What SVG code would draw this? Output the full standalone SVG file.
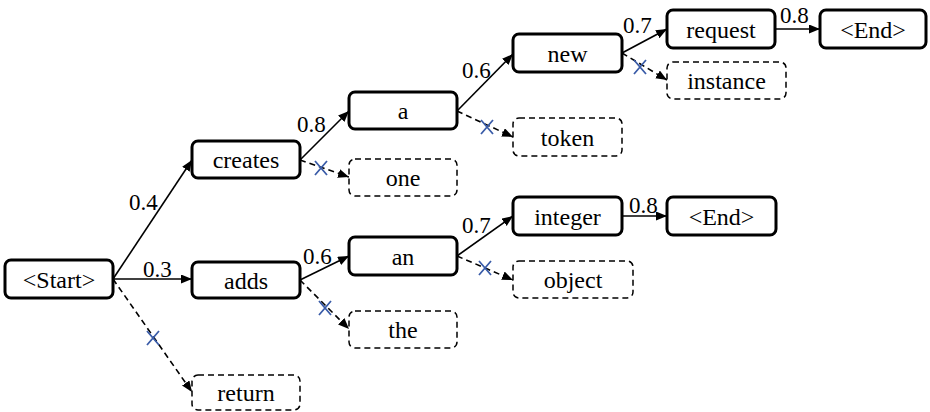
<svg xmlns="http://www.w3.org/2000/svg" width="930" height="412" viewBox="0 0 930 412">
<style>
.n rect{fill:#fff;stroke:#000;stroke-width:3}
.d rect{fill:#fff;stroke:#000;stroke-width:1.5;stroke-dasharray:6,4}
text{font-family:"Liberation Serif","DejaVu Serif",serif;font-size:24px;fill:#000}
.t{text-anchor:middle}
.l{font-size:23px}
.c line{stroke:#000;stroke-width:1.6;fill:none}
.c .dl{stroke-dasharray:6,4}
.x path{stroke:#3a5ca8;stroke-width:1.8;fill:none}
</style>
<defs>
<marker id="ah" markerWidth="12" markerHeight="10" refX="11" refY="4.5" orient="auto" markerUnits="userSpaceOnUse">
<path d="M0,0 L11,4.5 L0,9 Z" fill="#000"/>
</marker>
</defs>
<rect width="930" height="412" fill="#fff"/>
<g id="connectors" class="c">
<line x1="113" y1="279" x2="192" y2="160" marker-end="url(#ah)"/>
<line x1="113" y1="279" x2="192" y2="279" marker-end="url(#ah)"/>
<line class="dl" x1="113" y1="279" x2="192" y2="392" marker-end="url(#ah)"/>
<line x1="300" y1="160" x2="349" y2="111" marker-end="url(#ah)"/>
<line class="dl" x1="300" y1="160" x2="349" y2="177" marker-end="url(#ah)"/>
<line x1="300" y1="280" x2="349" y2="256" marker-end="url(#ah)"/>
<line class="dl" x1="300" y1="280" x2="349" y2="329" marker-end="url(#ah)"/>
<line x1="457" y1="111" x2="513" y2="54" marker-end="url(#ah)"/>
<line class="dl" x1="457" y1="111" x2="513" y2="137" marker-end="url(#ah)"/>
<line x1="457" y1="256" x2="513" y2="216" marker-end="url(#ah)"/>
<line class="dl" x1="457" y1="256" x2="513" y2="280" marker-end="url(#ah)"/>
<line x1="622" y1="53" x2="667" y2="29" marker-end="url(#ah)"/>
<line class="dl" x1="622" y1="53" x2="667" y2="80" marker-end="url(#ah)"/>
<line x1="775" y1="29" x2="820" y2="29" marker-end="url(#ah)"/>
<line x1="622" y1="216" x2="667" y2="216" marker-end="url(#ah)"/>
</g>
<g id="labels">
<text class="l" x="129" y="210">0.4</text>
<text class="l" x="143" y="277">0.3</text>
<text class="l" x="297" y="132">0.8</text>
<text class="l" x="303" y="264">0.6</text>
<text class="l" x="462" y="78">0.6</text>
<text class="l" x="462" y="233">0.7</text>
<text class="l" x="623" y="33">0.7</text>
<text class="l" x="780" y="23">0.8</text>
<text class="l" x="629" y="213">0.8</text>
</g>
<g id="pruned" class="x">
<path d="M147,331 L159,345 M159,331 L147,345"/>
<path d="M315,161 L327,175 M327,161 L315,175"/>
<path d="M481,120 L493,134 M493,120 L481,134"/>
<path d="M634,60 L646,74 M646,60 L634,74"/>
<path d="M319,301 L331,315 M331,301 L319,315"/>
<path d="M479,261 L491,275 M491,261 L479,275"/>
</g>
<g id="start" class="n"><rect x="5" y="260" width="108" height="38" rx="6"/><text class="t" x="59" y="287.5">&lt;Start&gt;</text></g>
<g id="creates" class="n"><rect x="192" y="141" width="108" height="37" rx="6"/><text class="t" x="246" y="168">creates</text></g>
<g id="adds" class="n"><rect x="192" y="262" width="108" height="36" rx="6"/><text class="t" x="246" y="288.5">adds</text></g>
<g id="return" class="d"><rect x="192" y="375" width="108" height="35" rx="6"/><text class="t" x="246" y="401">return</text></g>
<g id="a" class="n"><rect x="349" y="92" width="108" height="37" rx="6"/><text class="t" x="403" y="119">a</text></g>
<g id="one" class="d"><rect x="349" y="159" width="108" height="37" rx="6"/><text class="t" x="403" y="186">one</text></g>
<g id="an" class="n"><rect x="349" y="237" width="108" height="38" rx="6"/><text class="t" x="403" y="264.5">an</text></g>
<g id="the" class="d"><rect x="349" y="311" width="108" height="37" rx="6"/><text class="t" x="403" y="338">the</text></g>
<g id="new" class="n"><rect x="513" y="34" width="109" height="38" rx="6"/><text class="t" x="567.5" y="61.5">new</text></g>
<g id="token" class="d"><rect x="513" y="118" width="109" height="38" rx="6"/><text class="t" x="567.5" y="145.5">token</text></g>
<g id="integer" class="n"><rect x="513" y="197" width="109" height="38" rx="6"/><text class="t" x="567.5" y="224.5">integer</text></g>
<g id="object" class="d"><rect x="513" y="261" width="120" height="37" rx="6"/><text class="t" x="573" y="288">object</text></g>
<g id="request" class="n"><rect x="667" y="10" width="108" height="38" rx="6"/><text class="t" x="721" y="37.5">request</text></g>
<g id="instance" class="d"><rect x="667" y="62" width="119" height="37" rx="6"/><text class="t" x="726.5" y="89">instance</text></g>
<g id="end1" class="n"><rect x="820" y="10" width="106" height="38" rx="6"/><text class="t" x="873" y="37.5">&lt;End&gt;</text></g>
<g id="end2" class="n"><rect x="667" y="197" width="109" height="38" rx="6"/><text class="t" x="721.5" y="224.5">&lt;End&gt;</text></g>
</svg>
